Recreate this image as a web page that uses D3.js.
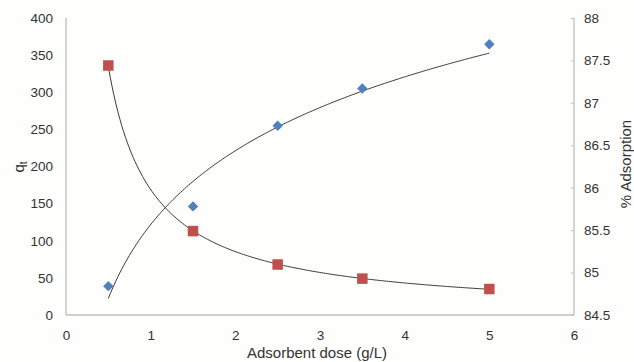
<!DOCTYPE html>
<html><head><meta charset="utf-8">
<script src="https://cdn.jsdelivr.net/npm/d3@7"></script>
<style>html,body{margin:0;padding:0;background:#fefefc;}svg{display:block;}</style>
</head><body>
<script>
const doses = [0.5, 1.5, 2.5, 3.5, 5];
const qt = [336, 113, 68, 49, 35];
const adsorption = [84.84, 85.78, 86.73, 87.17, 87.69];
const xTicks = [0, 1, 2, 3, 4, 5, 6];
const yLeftTicks = [0, 50, 100, 150, 200, 250, 300, 350, 400];
const yRightTicks = [84.5, 85, 85.5, 86, 86.5, 87, 87.5, 88];

const W = 634, H = 362;
const m = {l: 66, r: 60, t: 18, b: 47};
const svg = d3.select("body").append("svg").attr("width", W).attr("height", H);
const font = "'Liberation Sans', Arial, sans-serif";
const x = d3.scaleLinear().domain([0, 6]).range([m.l, 574]);
const yL = d3.scaleLinear().domain([0, 400]).range([315, m.t]);
const yR = d3.scaleLinear().domain([84.5, 88]).range([315, m.t]);
const axisCol = "#bfbfbf", textCol = "#333";

const gx = svg.append("g").attr("transform", "translate(0,315)")
  .call(d3.axisBottom(x).tickValues(xTicks).tickSize(0).tickPadding(15).tickFormat(d3.format("d")));
const gl = svg.append("g").attr("transform", `translate(${m.l},0)`)
  .call(d3.axisLeft(yL).tickValues(yLeftTicks).tickSize(0).tickPadding(13));
const gr = svg.append("g").attr("transform", "translate(574,0)")
  .call(d3.axisRight(yR).tickValues(yRightTicks).tickSize(-3).tickPadding(10).tickFormat(d3.format("")));
[gx, gl, gr].forEach(g => {
  g.select(".domain").attr("stroke", axisCol).attr("stroke-width", 1.3);
  g.selectAll(".tick line").attr("stroke", axisCol);
  g.selectAll("text").attr("fill", textCol).style("font-family", font).style("font-size", "13.5px");
});
gx.select(".domain").attr("d", `M${m.l},0H574`);
gr.select(".domain").attr("d", `M0,${m.t}V315`);
gl.select(".domain").attr("d", `M0,${m.t}V315`);

svg.append("text").attr("x", 317).attr("y", 358).attr("text-anchor", "middle")
  .attr("fill", textCol).style("font-family", font).style("font-size", "15px").text("Adsorbent dose (g/L)");
const qtl = svg.append("text").attr("transform", "translate(24,167) rotate(-90)").attr("text-anchor", "middle")
  .attr("fill", textCol).style("font-family", font).style("font-size", "15px");
qtl.append("tspan").text("q");
qtl.append("tspan").attr("font-size", "10px").attr("dy", 3).text("t");
svg.append("text").attr("transform", "translate(631,164) rotate(-90)").attr("text-anchor", "middle")
  .attr("fill", textCol).style("font-family", font).style("font-size", "15px").text("% Adsorption");

// Trendlines (least-squares fits like Excel)
function fit(xs, ys) {
  const mx = d3.mean(xs), my = d3.mean(ys);
  let sxy = 0, sxx = 0;
  xs.forEach((v, i) => { sxy += (v - mx) * (ys[i] - my); sxx += (v - mx) ** 2; });
  const b = sxy / sxx; return {a: my - b * mx, b};
}
const lx = doses.map(Math.log);
const pw = fit(lx, qt.map(Math.log)); // power fit
const lg = fit(lx, adsorption);        // log fit
const xs = d3.range(0, 201).map(i => 0.5 + 4.5 * i / 200);
const line = d3.line();
svg.append("path").attr("fill", "none").attr("stroke", "#3a3a3a").attr("stroke-width", 1)
  .attr("d", line(xs.map(v => [x(v), yL(Math.exp(pw.a) * Math.pow(v, pw.b))])));
svg.append("path").attr("fill", "none").attr("stroke", "#3a3a3a").attr("stroke-width", 1)
  .attr("d", line(xs.map(v => [x(v), yR(lg.a + lg.b * Math.log(v))])));

const s = 10.5;
svg.selectAll(".sq").data(doses).enter().append("rect")
  .attr("x", (d) => x(d) - s / 2).attr("y", (d, i) => yL(qt[i]) - s / 2)
  .attr("width", s).attr("height", s).attr("fill", "#c0504d");
svg.selectAll(".dm").data(doses).enter().append("path")
  .attr("transform", (d, i) => `translate(${x(d)},${yR(adsorption[i])})`)
  .attr("d", "M0,-5.2L5.2,0L0,5.2L-5.2,0Z").attr("fill", "#4f81bd");
</script>
</body></html>
